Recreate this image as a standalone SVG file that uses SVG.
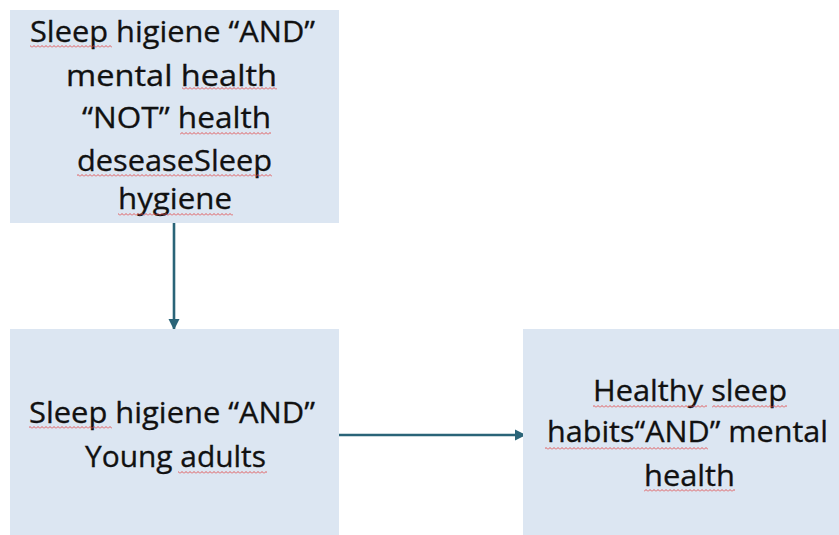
<svg xmlns="http://www.w3.org/2000/svg" width="839" height="535" viewBox="0 0 839 535">
  <style>
    .box { fill: #dce6f2; }
    .lbl { font-family: "Open Sans", "Liberation Sans", sans-serif; font-size: 28.5px; fill: #111111; text-anchor: middle; stroke: #111111; stroke-width: 0.3; }
    .edge { stroke: #2a6478; stroke-width: 2.6; fill: none; }
    .sq { fill: url(#wave); }
  </style>
  <defs>
    <marker id="arr" markerWidth="12" markerHeight="12" refX="10" refY="6" orient="auto" markerUnits="userSpaceOnUse">
      <path d="M0,0.5 L11,6 L0,11.5 Z" fill="#2a6478"/>
    </marker>
    <pattern id="wave" patternUnits="userSpaceOnUse" width="4" height="3">
      <path d="M0,2.5 L2,0.5 L4,2.5" stroke="#e04a4a" stroke-width="0.9" fill="none"/>
    </pattern>
  </defs>
  <rect width="839" height="535" fill="#ffffff"/>

  <g id="connectors">
    <line class="edge" x1="174" y1="223" x2="174" y2="329" marker-end="url(#arr)"/>
    <line class="edge" x1="339" y1="435" x2="525" y2="435" marker-end="url(#arr)"/>
  </g>

  <g id="node-query1">
    <rect class="box" x="10" y="10" width="329" height="213"/>
    <text class="lbl" x="172.5" y="42" textLength="285" lengthAdjust="spacingAndGlyphs">Sleep higiene “AND”</text>
    <text class="lbl" x="171.5" y="86" textLength="211" lengthAdjust="spacingAndGlyphs">mental health</text>
    <text class="lbl" x="176.5" y="128" textLength="189" lengthAdjust="spacingAndGlyphs">“NOT” health</text>
    <text class="lbl" x="174.5" y="171" textLength="195" lengthAdjust="spacingAndGlyphs">deseaseSleep</text>
    <text class="lbl" x="175" y="209" textLength="114" lengthAdjust="spacingAndGlyphs">hygiene</text>
    <rect class="sq" x="30" y="45" width="82" height="3"/>
    <rect class="sq" x="182" y="87" width="95" height="3"/>
    <rect class="sq" x="180" y="132" width="91" height="3"/>
    <rect class="sq" x="77" y="174" width="195" height="3"/>
    <rect class="sq" x="118" y="213" width="115" height="3"/>
  </g>

  <g id="node-query2">
    <rect class="box" x="10" y="329" width="329" height="206"/>
    <text class="lbl" x="172" y="423" textLength="286" lengthAdjust="spacingAndGlyphs">Sleep higiene “AND”</text>
    <text class="lbl" x="175.5" y="467" textLength="181" lengthAdjust="spacingAndGlyphs">Young adults</text>
    <rect class="sq" x="29" y="426" width="83" height="3"/>
    <rect class="sq" x="178" y="471" width="89" height="3"/>
  </g>

  <g id="node-query3">
    <rect class="box" x="523" y="329" width="316" height="206"/>
    <text class="lbl" x="690" y="401" textLength="194" lengthAdjust="spacingAndGlyphs">Healthy sleep</text>
    <text class="lbl" x="687.5" y="442" textLength="281" lengthAdjust="spacingAndGlyphs">habits“AND” mental</text>
    <text class="lbl" x="689.5" y="486" textLength="91" lengthAdjust="spacingAndGlyphs">health</text>
    <rect class="sq" x="593" y="405" width="114" height="3"/>
    <rect class="sq" x="712" y="405" width="75" height="3"/>
    <rect class="sq" x="545" y="447" width="163" height="3"/>
    <rect class="sq" x="644" y="489" width="91" height="3"/>
  </g>
</svg>
